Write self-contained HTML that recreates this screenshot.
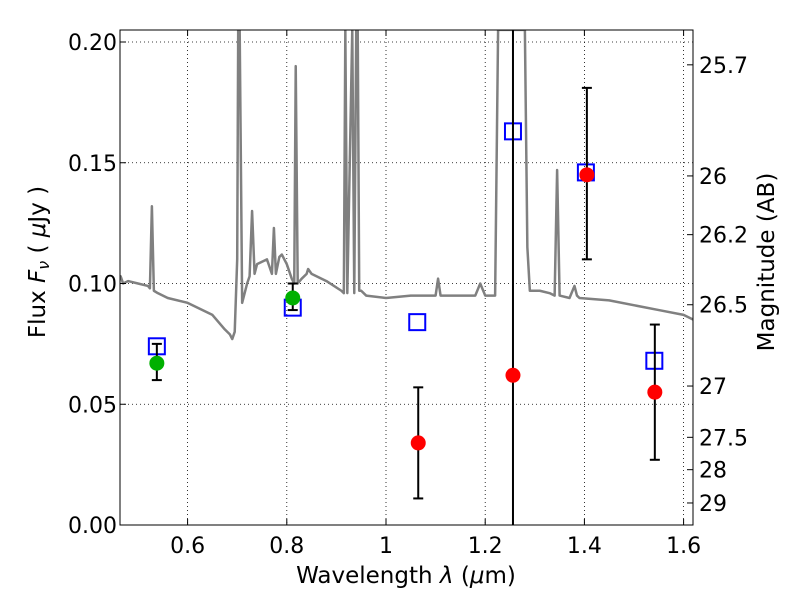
<!DOCTYPE html>
<html><head><meta charset="utf-8"><style>
body{margin:0;background:#fff}
svg text{font-family:"DejaVu Sans","Liberation Sans",sans-serif;fill:#000}
</style></head><body>
<svg id="chart" width="800" height="600" xmlns="http://www.w3.org/2000/svg"></svg>
<script>
const xTicks=[0.6,0.8,1.0,1.2,1.4,1.6];
const xTickLabels=["0.6","0.8","1","1.2","1.4","1.6"];
const yTicks=[0,0.05,0.1,0.15,0.2];
const yTickLabels=["0.00","0.05","0.10","0.15","0.20"];
const magTicks=[25.7,26,26.2,26.5,27,27.5,28,29];
const magLabels=["25.7","26","26.2","26.5","27","27.5","28","29"];
const specWave=[0.44,0.465,0.47,0.48,0.50,0.52,0.524,0.528,0.532,0.54,0.56,0.60,0.65,0.675,0.685,0.69,0.695,0.70,0.702,0.705,0.71,0.72,0.725,0.73,0.735,0.74,0.76,0.77,0.774,0.778,0.785,0.79,0.80,0.81,0.815,0.818,0.822,0.83,0.84,0.843,0.85,0.88,0.91,0.915,0.918,0.922,0.932,0.936,0.94,0.943,0.946,0.95,0.96,1.00,1.05,1.10,1.105,1.11,1.18,1.19,1.20,1.22,1.226,1.23,1.28,1.285,1.29,1.31,1.33,1.34,1.345,1.35,1.37,1.38,1.385,1.39,1.45,1.55,1.60,1.62,1.64];
const specFlux=[0.103,0.103,0.100,0.101,0.100,0.099,0.098,0.132,0.097,0.096,0.094,0.092,0.087,0.081,0.079,0.077,0.080,0.110,0.205,0.205,0.092,0.100,0.103,0.130,0.104,0.108,0.110,0.104,0.123,0.104,0.111,0.112,0.108,0.102,0.100,0.190,0.100,0.102,0.104,0.106,0.104,0.101,0.097,0.096,0.205,0.096,0.205,0.096,0.205,0.205,0.097,0.097,0.095,0.094,0.095,0.095,0.102,0.095,0.095,0.100,0.095,0.095,0.205,0.205,0.205,0.115,0.097,0.097,0.096,0.095,0.147,0.095,0.094,0.099,0.095,0.094,0.093,0.089,0.087,0.085,0.086];
const greenWave=[0.538,0.812];
const greenFlux=[0.067,0.094];
const greenLo=[0.060,0.089];
const greenHi=[0.075,0.100];
const redWave=[1.065,1.256,1.405,1.542];
const redFlux=[0.034,0.062,0.145,0.055];
const redLo=[0.011,-0.01,0.110,0.027];
const redHi=[0.057,0.30,0.181,0.083];
const modelWave=[0.538,0.812,1.063,1.256,1.403,1.541];
const modelFlux=[0.074,0.090,0.084,0.163,0.146,0.068];

const L=120,R=693,T=30,B=525;
const X=v=>386+(v-1)*496;
const Y=v=>525-v*2415;
const NS="http://www.w3.org/2000/svg";
const svg=document.getElementById('chart');
function mk(t,a,p){const e=document.createElementNS(NS,t);for(const k in a)e.setAttribute(k,a[k]);(p||svg).appendChild(e);return e;}
const defs=mk('defs',{});const cp=mk('clipPath',{id:'cp'},defs);mk('rect',{x:L,y:T,width:R-L,height:B-T},cp);
const plot=mk('g',{'clip-path':'url(#cp)'});


xTicks.forEach(v=>{const g=mk('line',{x1:X(v),x2:X(v),y1:T,y2:B,stroke:'#000','stroke-dasharray':'1,3','stroke-width':0.8},plot);});
yTicks.forEach(v=>{const g=mk('line',{x1:L,x2:R,y1:Y(v),y2:Y(v),stroke:'#000','stroke-dasharray':'1,3','stroke-width':0.8},plot);});
const sp=mk('polyline',{points:specWave.map((w,i)=>X(w)+','+Y(specFlux[i])).join(' '),fill:'none',stroke:'#808080','stroke-width':2.5,'stroke-linejoin':'round'},plot);


modelWave.forEach((w,i)=>{const s=mk('rect',{x:X(w)-8,y:Y(modelFlux[i])-8,width:16,height:16,fill:'none',stroke:'#0000ff','stroke-width':2},plot);});
function pts(ws,fs,lo,hi,col,name){ws.forEach((w,i)=>{const x=X(w);
 const e=mk('line',{x1:x,x2:x,y1:Y(lo[i]),y2:Y(hi[i]),stroke:'#000','stroke-width':2},plot);
 [lo[i],hi[i]].forEach(v=>{const c=mk('line',{x1:x-5,x2:x+5,y1:Y(v),y2:Y(v),stroke:'#000','stroke-width':2},plot);});
 const d=mk('circle',{cx:x,cy:Y(fs[i]),r:7.5,fill:col},plot);});}
pts(greenWave,greenFlux,greenLo,greenHi,'#00b000','green-detection');
pts(redWave,redFlux,redLo,redHi,'#ff0000','red-detection');
const fr=mk('rect',{x:L,y:T,width:R-L,height:B-T,fill:'none',stroke:'#000','stroke-width':1});
xTicks.forEach((v,i)=>{mk('line',{x1:X(v),x2:X(v),y1:B,y2:B-6,stroke:'#000'});mk('line',{x1:X(v),x2:X(v),y1:T,y2:T+6,stroke:'#000'});
 const t=mk('text',{x:X(v),y:B+28,'text-anchor':'middle','font-size':22});t.textContent=xTickLabels[i];});
yTicks.forEach((v,i)=>{mk('line',{x1:L,x2:L+6,y1:Y(v),y2:Y(v),stroke:'#000'});
 const t=mk('text',{x:L-3,y:Y(v)+8,'text-anchor':'end','font-size':22});t.textContent=yTickLabels[i];});
magTicks.forEach((m,i)=>{const y=Y(Math.pow(10,(23.9-m)/2.5));mk('line',{x1:R,x2:R-6,y1:y,y2:y,stroke:'#000'});
 const t=mk('text',{x:R+6,y:y+8,'font-size':22});t.textContent=magLabels[i];});
let t=mk('text',{x:406,y:583,'text-anchor':'middle','font-size':23});t.innerHTML='Wavelength  <tspan font-style="italic">λ</tspan> (<tspan font-style="italic">μ</tspan>m)';
t=mk('text',{x:0,y:0,'text-anchor':'middle','font-size':23,transform:'translate(45,262) rotate(-90)'});t.innerHTML='Flux  <tspan font-style="italic">F</tspan><tspan font-style="italic" font-size="16" dy="4">ν</tspan><tspan dy="-4">  (  </tspan><tspan font-style="italic">μ</tspan>Jy )';
t=mk('text',{x:0,y:0,'text-anchor':'middle','font-size':23,transform:'translate(774,262) rotate(-90)'});t.textContent='Magnitude (AB)';
</script>
</body></html>
